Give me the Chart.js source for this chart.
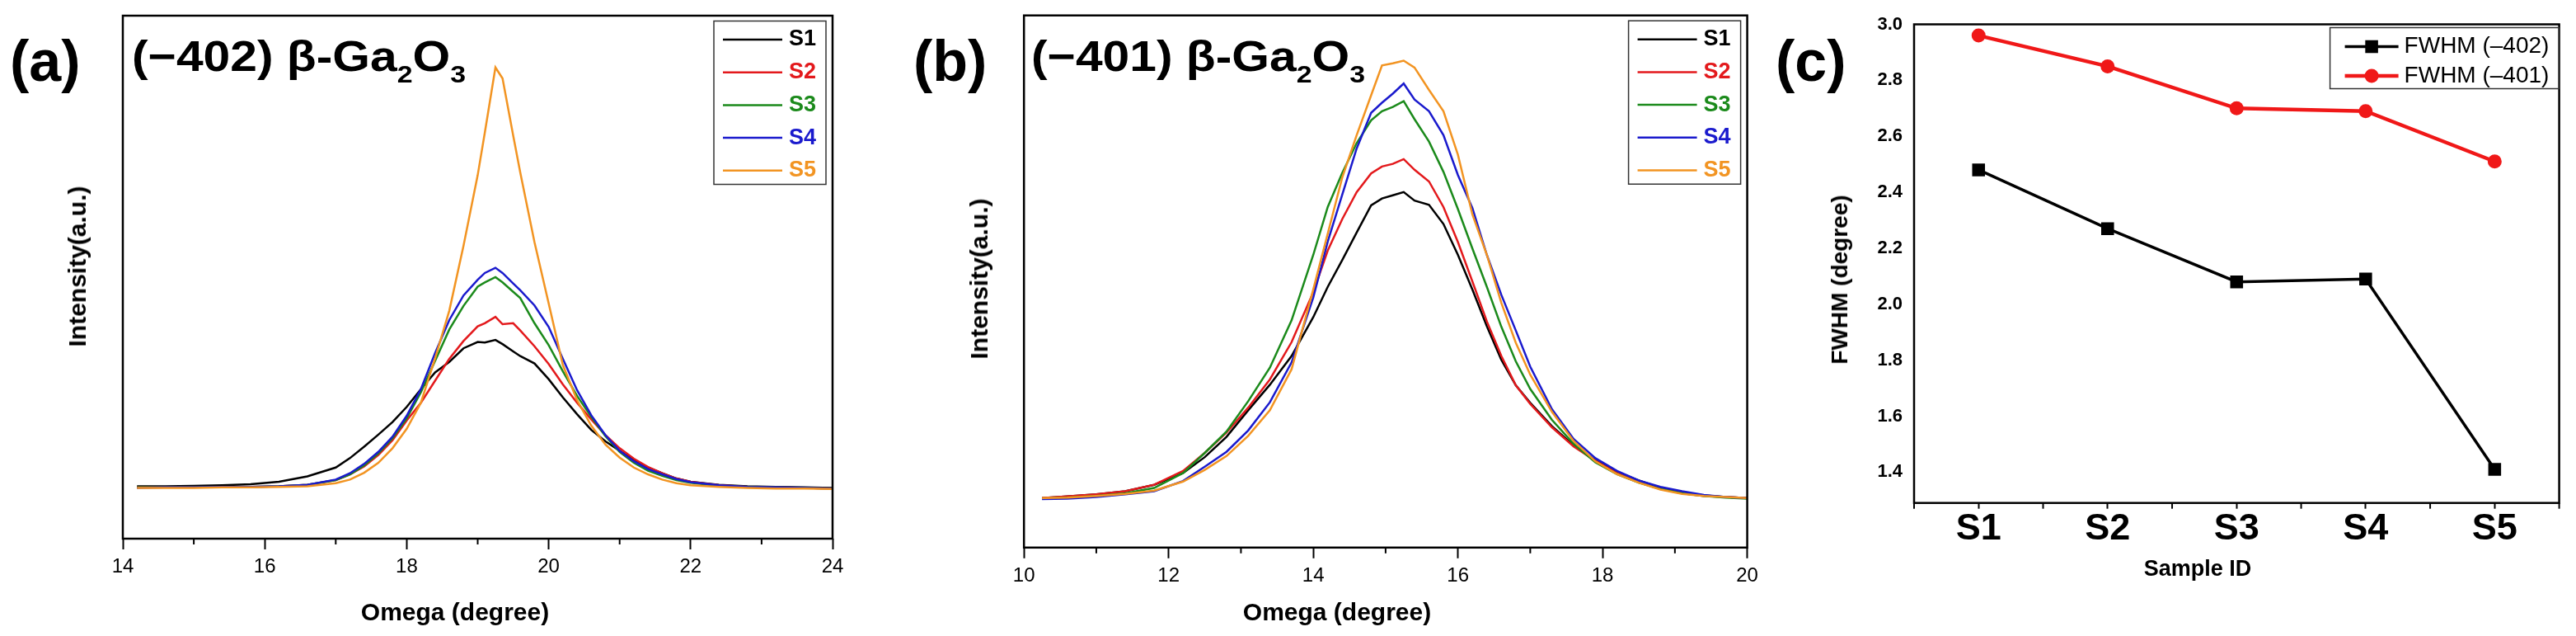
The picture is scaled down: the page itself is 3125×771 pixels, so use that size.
<!DOCTYPE html>
<html>
<head>
<meta charset="utf-8">
<title>Omega rocking curves and FWHM</title>
<script src="https://cdn.jsdelivr.net/npm/chart.js@4.4.1/dist/chart.umd.min.js"></script>
<style>
  html, body { margin: 0; padding: 0; background: #fff; }
  #page { position: relative; width: 3125px; height: 771px; overflow: hidden;
          font-family: "Liberation Sans", Arial, sans-serif; }
  canvas { position: absolute; top: 0; }
  .txt { position: absolute; font-weight: bold; line-height: 1; white-space: nowrap; color: #000; }
  .panel { font-size: 70px; }
  .head { font-size: 52px; transform-origin: 0 0; transform: scaleX(1.13); }
  .head sub { font-size: 30px; vertical-align: -14px; line-height: 1; }
  .axt { font-size: 30px; transform: translate(-50%, -50%); }
  .axt.rot { transform: translate(-50%, -50%) rotate(-90deg); }
</style>
</head>
<body>
<div id="page">
  <canvas id="chartA" width="1040" height="771" style="left:0"></canvas>
  <canvas id="chartB" width="1050" height="771" style="left:1100px"></canvas>
  <canvas id="chartC" width="975" height="771" style="left:2150px"></canvas>

  <div class="txt panel" style="left:12px;top:39px">(a)</div>
  <div class="txt panel" style="left:1108px;top:39px">(b)</div>
  <div class="txt panel" style="left:2154px;top:39px">(c)</div>

  <div class="txt head" style="left:160px;top:42px">(−402) β-Ga<sub>2</sub>O<sub>3</sub></div>
  <div class="txt head" style="left:1251px;top:42px">(−401) β-Ga<sub>2</sub>O<sub>3</sub></div>

  <div class="txt axt" style="left:552px;top:742px">Omega (degree)</div>
  <div class="txt axt" style="left:1622px;top:742px">Omega (degree)</div>
  <div class="txt axt rot" style="left:94px;top:323px">Intensity(a.u.)</div>
  <div class="txt axt rot" style="left:1188px;top:338px">Intensity(a.u.)</div>
  <div class="txt axt rot" style="left:2232px;top:339px;font-size:28px">FWHM (degree)</div>
  <div class="txt axt" style="left:2666px;top:689px;font-size:27px">Sample ID</div>
</div>

<script>
// sample names and colours
const samples = ['S1', 'S2', 'S3', 'S4', 'S5'];
const sampleColors = ['#000000', '#e3191c', '#1b8a1b', '#1a1acd', '#f29422'];

// (a) (-402) omega scan, intensity in arbitrary units (0-100 = plot height)
const omegaA = [14.2, 14.6, 15.0, 15.4, 15.8, 16.2, 16.6, 17.0, 17.2, 17.4, 17.6, 17.8, 18.0, 18.2, 18.4, 18.6, 18.8, 19.0, 19.1, 19.25,
                19.35, 19.5, 19.6, 19.8, 20.0, 20.2, 20.4, 20.6, 20.8, 21.0, 21.2, 21.4, 21.6, 21.8, 22.0, 22.4, 22.8, 23.2, 23.6, 24.0];
const intA_S1 = [10.0, 10.0, 10.1, 10.2, 10.4, 10.9, 11.9, 13.6, 15.4, 17.6, 19.9, 22.3, 25.2, 28.6, 31.8, 33.8, 36.4, 37.6, 37.5, 38.0,
                 37.2, 35.8, 34.9, 33.5, 30.5, 27.0, 23.8, 20.8, 18.6, 16.8, 15.0, 13.6, 12.5, 11.5, 10.9, 10.3, 10.0, 9.9, 9.8, 9.7];
const intA_S2 = [9.8, 9.8, 9.8, 9.9, 9.9, 10.0, 10.3, 11.2, 12.3, 13.8, 16.0, 18.8, 22.6, 26.0, 30.2, 34.4, 37.8, 40.6, 41.2, 42.4,
                 41.0, 41.2, 39.8, 36.8, 33.4, 29.5, 26.0, 22.8, 19.8, 17.3, 15.3, 13.7, 12.5, 11.5, 10.9, 10.2, 9.9, 9.8, 9.7, 9.6];
const intA_S3 = [9.8, 9.8, 9.8, 9.9, 9.9, 10.0, 10.3, 11.2, 12.3, 14.0, 16.3, 19.2, 23.0, 28.0, 34.0, 40.0, 44.5, 48.2, 49.0, 50.0,
                 49.0, 47.2, 46.0, 41.2, 37.0, 32.0, 27.3, 23.3, 19.6, 16.6, 14.5, 13.0, 12.0, 11.2, 10.7, 10.1, 9.9, 9.8, 9.7, 9.6];
const intA_S4 = [9.7, 9.8, 9.8, 9.9, 9.9, 10.0, 10.3, 11.3, 12.5, 14.3, 16.6, 19.5, 23.5, 28.6, 35.5, 41.8, 46.5, 49.5, 50.8, 51.8,
                 50.8, 48.8, 47.5, 44.6, 40.5, 34.4, 28.4, 23.6, 19.8, 16.8, 14.8, 13.3, 12.3, 11.4, 10.8, 10.2, 9.9, 9.8, 9.7, 9.6];
const intA_S5 = [9.7, 9.7, 9.7, 9.8, 9.8, 9.9, 10.0, 10.6, 11.3, 12.6, 14.5, 17.3, 21.0, 26.0, 34.5, 43.6, 56.0, 69.5, 77.6, 90.1,
                 88.0, 77.1, 70.0, 56.7, 45.0, 33.2, 26.5, 21.6, 18.0, 15.5, 13.6, 12.3, 11.3, 10.6, 10.2, 9.9, 9.7, 9.6, 9.6, 9.5];

// (b) (-401) omega scan
const omegaB = [10.25, 10.6, 11.0, 11.4, 11.8, 12.2, 12.5, 12.8, 13.1, 13.4, 13.7, 14.0, 14.2, 14.4, 14.6, 14.8, 14.95, 15.1, 15.25,
                15.4, 15.6, 15.8, 16.0, 16.2, 16.4, 16.6, 16.8, 17.0, 17.3, 17.6, 17.9, 18.2, 18.5, 18.8, 19.1, 19.4, 19.7, 20.0];
const intB_S1 = [9.3, 9.6, 10.0, 10.6, 11.8, 14.0, 17.0, 20.8, 25.8, 30.6, 36.0, 43.3, 49.0, 54.0, 59.2, 64.3, 65.6, 66.2, 66.8,
                 65.2, 64.4, 60.8, 55.0, 48.5, 41.6, 35.3, 30.5, 27.2, 22.8, 19.2, 16.4, 14.2, 12.6, 11.2, 10.3, 9.8, 9.5, 9.3];
const intB_S2 = [9.3, 9.6, 10.0, 10.6, 11.8, 14.4, 17.8, 21.6, 26.3, 31.6, 38.6, 48.0, 55.8, 61.7, 66.8, 70.3, 71.6, 72.1, 73.0,
                 71.0, 68.8, 64.0, 57.4, 50.0, 42.5, 36.0, 30.5, 27.0, 22.6, 19.0, 16.3, 14.0, 12.3, 11.0, 10.2, 9.7, 9.5, 9.3];
const intB_S3 = [9.2, 9.4, 9.7, 10.2, 11.2, 14.0, 17.8, 21.8, 27.5, 33.8, 42.7, 55.0, 64.0, 70.4, 76.0, 80.3, 82.0, 82.8, 83.9,
                 80.5, 76.3, 70.6, 63.6, 56.2, 49.0, 41.5, 35.0, 29.8, 24.0, 19.5, 16.0, 13.8, 12.2, 11.0, 10.2, 9.7, 9.4, 9.2];
const intB_S4 = [9.1, 9.2, 9.5, 10.0, 10.6, 12.5, 15.2, 18.0, 22.0, 27.3, 34.8, 47.0, 57.5, 66.3, 75.0, 81.7, 83.6, 85.3, 87.2,
                 84.2, 82.0, 77.5, 70.0, 63.8, 55.0, 47.5, 40.8, 34.0, 26.0, 20.4, 16.8, 14.4, 12.6, 11.4, 10.6, 9.9, 9.5, 9.3];
const intB_S5 = [9.3, 9.4, 9.7, 10.1, 10.7, 12.4, 14.6, 17.2, 21.0, 25.8, 33.5, 48.5, 59.0, 69.5, 77.5, 85.0, 90.6, 91.0, 91.5,
                 90.2, 86.0, 82.0, 73.8, 62.6, 55.0, 46.0, 38.5, 32.5, 25.5, 20.0, 16.2, 13.8, 12.2, 10.9, 10.1, 9.7, 9.5, 9.3];

// (c) FWHM per sample
const fwhm402 = [2.48, 2.27, 2.08, 2.09, 1.41];
const fwhm401 = [2.96, 2.85, 2.70, 2.69, 2.51];
const fwhmTicks = [1.4, 1.6, 1.8, 2.0, 2.2, 2.4, 2.6, 2.8, 3.0];

// unlabelled minor tick positions
const minorA = [15, 17, 19, 21, 23];
const minorB = [11, 13, 15, 17, 19];
const minorC = [-0.5, 0.5, 1.5, 2.5, 3.5, 4.5];

Chart.defaults.font.family = '"Liberation Sans", Arial, sans-serif';
Chart.defaults.color = '#000';

// box around the plot area + short minor ticks under the x axis
const frame = {
  id: 'frame',
  afterDraw(chart, args, opts) {
    const { ctx, chartArea: a, scales: { x } } = chart;
    ctx.save();
    ctx.strokeStyle = '#000';
    ctx.lineWidth = 2;
    (opts.minor || []).forEach(v => {
      const px = x.getPixelForValue(v);
      ctx.beginPath();
      ctx.moveTo(px, a.bottom);
      ctx.lineTo(px, a.bottom + opts.minorLen);
      ctx.stroke();
    });
    ctx.lineWidth = 2.5;
    ctx.strokeRect(a.left, a.top, a.right - a.left, a.bottom - a.top);
    ctx.restore();
  }
};

// framed legend inside the top right corner of the plot
const boxLegend = {
  id: 'boxLegend',
  afterDraw(chart, args, o) {
    const { ctx, chartArea: a } = chart;
    const x0 = a.right - o.inset - o.width;
    const y0 = a.top + o.top;
    ctx.save();
    ctx.strokeStyle = '#333';
    ctx.lineWidth = 1.5;
    ctx.strokeRect(x0, y0, o.width, o.height);
    ctx.font = o.font;
    ctx.textBaseline = 'middle';
    ctx.textAlign = 'left';
    chart.data.datasets.forEach((ds, i) => {
      const y = y0 + o.first + i * o.gap;
      ctx.strokeStyle = ds.borderColor;
      ctx.lineWidth = ds.borderWidth;
      ctx.beginPath();
      ctx.moveTo(x0 + o.lineFrom, y);
      ctx.lineTo(x0 + o.lineTo, y);
      ctx.stroke();
      if (o.marker) {
        ctx.fillStyle = ds.borderColor;
        Chart.helpers.drawPoint(ctx, { pointStyle: ds.pointStyle, radius: ds.pointRadius, borderWidth: 0 },
          x0 + (o.lineFrom + o.lineTo) / 2, y);
      }
      ctx.fillStyle = o.textColor || ds.borderColor;
      ctx.fillText(ds.label, x0 + o.textX, y);
    });
    ctx.restore();
  }
};

function scanSets(xs, series) {
  return series.map((ys, i) => ({
    label: samples[i],
    data: xs.map((x, j) => ({ x: x, y: ys[j] })),
    borderColor: sampleColors[i],
    borderWidth: 2.5,
    pointRadius: 0,
    tension: 0,
    order: series.length - 1 - i
  }));
}

function scanChart(id, xs, series, xmin, xmax, pad, axisH, minor) {
  return new Chart(document.getElementById(id), {
    type: 'line',
    data: { datasets: scanSets(xs, series) },
    options: {
      responsive: false,
      animation: false,
      devicePixelRatio: 1,
      layout: { padding: pad },
      plugins: {
        legend: { display: false },
        tooltip: { enabled: false },
        frame: { minor: minor, minorLen: 7 },
        boxLegend: { inset: 8, width: 136, top: 6.5, height: 198, first: 22.5, gap: 39.7,
                     lineFrom: 11, lineTo: 83, textX: 91, font: 'bold 27px "Liberation Sans", Arial, sans-serif' }
      },
      scales: {
        x: {
          type: 'linear', min: xmin, max: xmax,
          ticks: { stepSize: 2, color: '#000', font: { size: 24 }, padding: 7, maxRotation: 0, autoSkip: false },
          grid: { drawOnChartArea: false, tickLength: 13, tickWidth: 2, tickColor: '#000' },
          border: { display: false },
          afterFit: s => { s.height = axisH; }
        },
        y: { display: false, min: 0, max: 100 }
      }
    },
    plugins: [frame, boxLegend]
  });
}

scanChart('chartA', omegaA, [intA_S1, intA_S2, intA_S3, intA_S4, intA_S5], 14, 24,
  { left: 149, right: 30, top: 19, bottom: 0 }, 118, minorA);

scanChart('chartB', omegaB, [intB_S1, intB_S2, intB_S3, intB_S4, intB_S5], 10, 20,
  { left: 142.2, right: 30.4, top: 18.7, bottom: 0 }, 107.2, minorB);

new Chart(document.getElementById('chartC'), {
  type: 'line',
  data: {
    labels: samples,
    datasets: [
      { label: 'FWHM (–402)', data: fwhm402, borderColor: '#000000', backgroundColor: '#000000',
        borderWidth: 3.5, pointStyle: 'rect', pointRadius: 11, pointBorderWidth: 0, tension: 0 },
      { label: 'FWHM (–401)', data: fwhm401, borderColor: '#f01818', backgroundColor: '#f01818',
        borderWidth: 4.5, pointStyle: 'circle', pointRadius: 8.5, pointBorderWidth: 0, tension: 0 }
    ]
  },
  options: {
    responsive: false,
    animation: false,
    devicePixelRatio: 1,
    layout: { padding: { left: 0, right: 20.4, top: 29.5, bottom: 0 } },
    plugins: {
      legend: { display: false },
      tooltip: { enabled: false },
      frame: { minor: minorC, minorLen: 7 },
      boxLegend: { inset: 0, width: 278, top: 4, height: 74, first: 23, gap: 35.5,
                   lineFrom: 18, lineTo: 83, textX: 90, marker: true, textColor: '#000',
                   font: '28px "Liberation Sans", Arial, sans-serif' }
    },
    scales: {
      x: {
        type: 'category', offset: true,
        ticks: { color: '#000', font: { size: 45, weight: 'bold' }, padding: -2 },
        grid: { drawOnChartArea: false, tickLength: 7, tickWidth: 2, tickColor: '#000', offset: false },
        border: { display: false },
        afterFit: s => { s.height = 161.3; }
      },
      y: {
        min: 1.29, max: 3.0,
        afterBuildTicks: s => { s.ticks = fwhmTicks.map(v => ({ value: v })); },
        ticks: { color: '#000', font: { size: 22, weight: 'bold' }, padding: 14, callback: v => v.toFixed(1) },
        grid: { display: false, drawTicks: false },
        border: { display: false },
        afterFit: s => { s.width = 172; }
      }
    }
  },
  plugins: [frame, boxLegend]
});
</script>
</body>
</html>
